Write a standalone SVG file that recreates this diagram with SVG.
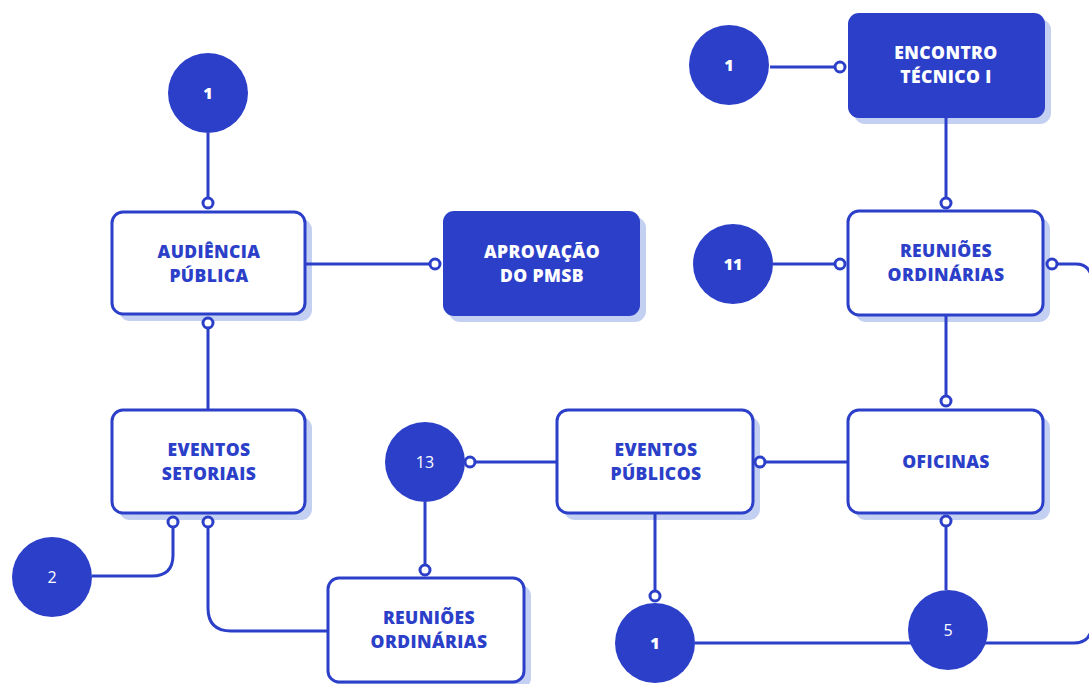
<svg xmlns="http://www.w3.org/2000/svg" width="1089" height="684" viewBox="0 0 1089 684">
<style>
.sh{fill:#c3d0f1}
.bx{fill:#ffffff;stroke:#2b3fc9;stroke-width:3}
.fb{fill:#2b3fc9;stroke:none}
.t{font-family:"Open Sans","Liberation Sans",sans-serif;font-weight:800;font-size:17.5px;letter-spacing:0.4px;text-anchor:middle;fill:#2b3fc9}
.tw{fill:#ffffff}
.c{fill:#2b3fc9}
.n{font-family:"Open Sans","Liberation Sans",sans-serif;font-size:16px;text-anchor:middle;fill:#ffffff}
.nb{font-weight:800}
.ln{fill:none;stroke:#2b3fc9;stroke-width:3}
.dot{fill:#ffffff;stroke:#2b3fc9;stroke-width:3}
</style>
<rect width="1089" height="684" fill="#ffffff"/>
<g id="audiencia">
<rect class="sh" x="119" y="219" width="193" height="102" rx="11"/>
<rect class="bx" x="112" y="212" width="193" height="102" rx="11"/>
<text class="t" x="209" y="258">AUDIÊNCIA</text>
<text class="t" x="209" y="282">PÚBLICA</text>
</g>
<g id="aprovacao">
<rect class="sh" x="449" y="217" width="197" height="105" rx="11"/>
<rect class="fb" x="443" y="211" width="197" height="105" rx="11"/>
<text class="t tw" x="542" y="258">APROVAÇÃO</text>
<text class="t tw" x="542" y="282">DO PMSB</text>
</g>
<g id="eventos-setoriais">
<rect class="sh" x="119" y="417" width="193" height="103" rx="11"/>
<rect class="bx" x="112" y="410" width="193" height="103" rx="11"/>
<text class="t" x="209" y="456">EVENTOS</text>
<text class="t" x="209" y="480">SETORIAIS</text>
</g>
<g id="reunioes-ordinarias-1">
<rect class="sh" x="335" y="585" width="196" height="104" rx="11"/>
<rect class="bx" x="328" y="578" width="196" height="104" rx="11"/>
<text class="t" x="429" y="624">REUNIÕES</text>
<text class="t" x="429" y="648">ORDINÁRIAS</text>
</g>
<g id="eventos-publicos">
<rect class="sh" x="564" y="417" width="196" height="103" rx="11"/>
<rect class="bx" x="557" y="410" width="196" height="103" rx="11"/>
<text class="t" x="656" y="456">EVENTOS</text>
<text class="t" x="656" y="480">PÚBLICOS</text>
</g>
<g id="oficinas">
<rect class="sh" x="855" y="417" width="195" height="103" rx="11"/>
<rect class="bx" x="848" y="410" width="195" height="103" rx="11"/>
<text class="t" x="946" y="468">OFICINAS</text>
</g>
<g id="reunioes-ordinarias-2">
<rect class="sh" x="855" y="218" width="195" height="104" rx="11"/>
<rect class="bx" x="848" y="211" width="195" height="104" rx="11"/>
<text class="t" x="946" y="257">REUNIÕES</text>
<text class="t" x="946" y="281">ORDINÁRIAS</text>
</g>
<g id="encontro-tecnico">
<rect class="sh" x="854" y="19" width="197" height="105" rx="11"/>
<rect class="fb" x="848" y="13" width="197" height="105" rx="11"/>
<text class="t tw" x="946" y="59">ENCONTRO</text>
<text class="t tw" x="946" y="83">TÉCNICO I</text>
</g>
<g id="connectors">
<path class="ln" d="M208 133V198"/>
<path class="ln" d="M208 328V410"/>
<path class="ln" d="M305 264H430"/>
<path class="ln" d="M92 576H152Q173 576 173 555V527"/>
<path class="ln" d="M208 527V608Q208 631 231 631H328"/>
<path class="ln" d="M425 502V565"/>
<path class="ln" d="M475 462H557"/>
<path class="ln" d="M765 462H848"/>
<path class="ln" d="M946 316V396"/>
<path class="ln" d="M946 526V590"/>
<path class="ln" d="M655 514V591"/>
<path class="ln" d="M695 643H1074Q1089 643 1092 628"/>
<path class="ln" d="M773 264H835"/>
<path class="ln" d="M1057 264H1076Q1089 264 1092 278"/>
<path class="ln" d="M946 118V198"/>
<path class="ln" d="M770 67H835"/>
<circle class="dot" cx="208" cy="203" r="5"/>
<circle class="dot" cx="208" cy="323" r="5"/>
<circle class="dot" cx="435" cy="264" r="5"/>
<circle class="dot" cx="173" cy="522" r="5"/>
<circle class="dot" cx="208" cy="522" r="5"/>
<circle class="dot" cx="425" cy="570" r="5"/>
<circle class="dot" cx="470" cy="462" r="5"/>
<circle class="dot" cx="760" cy="462" r="5"/>
<circle class="dot" cx="946" cy="401" r="5"/>
<circle class="dot" cx="946" cy="521" r="5"/>
<circle class="dot" cx="655" cy="596" r="5"/>
<circle class="dot" cx="840" cy="264" r="5"/>
<circle class="dot" cx="1052" cy="264" r="5"/>
<circle class="dot" cx="946" cy="203" r="5"/>
<circle class="dot" cx="840" cy="67" r="5"/>
</g>
<g id="n1-top-left"><circle class="c" cx="208" cy="93" r="40"/><text class="n nb" x="208" y="99">1</text></g>
<g id="n1-top-right"><circle class="c" cx="729" cy="65" r="40"/><text class="n nb" x="729" y="71">1</text></g>
<g id="n11"><circle class="c" cx="733" cy="264" r="40"/><text class="n nb" x="733" y="270">11</text></g>
<g id="n13"><circle class="c" cx="425" cy="462" r="40"/><text class="n" x="425" y="468">13</text></g>
<g id="n2"><circle class="c" cx="52" cy="577" r="40"/><text class="n" x="52" y="583">2</text></g>
<g id="n1-bottom"><circle class="c" cx="655" cy="643" r="40"/><text class="n nb" x="655" y="649">1</text></g>
<g id="n5"><circle class="c" cx="948" cy="630" r="40"/><text class="n" x="948" y="636">5</text></g>
</svg>
